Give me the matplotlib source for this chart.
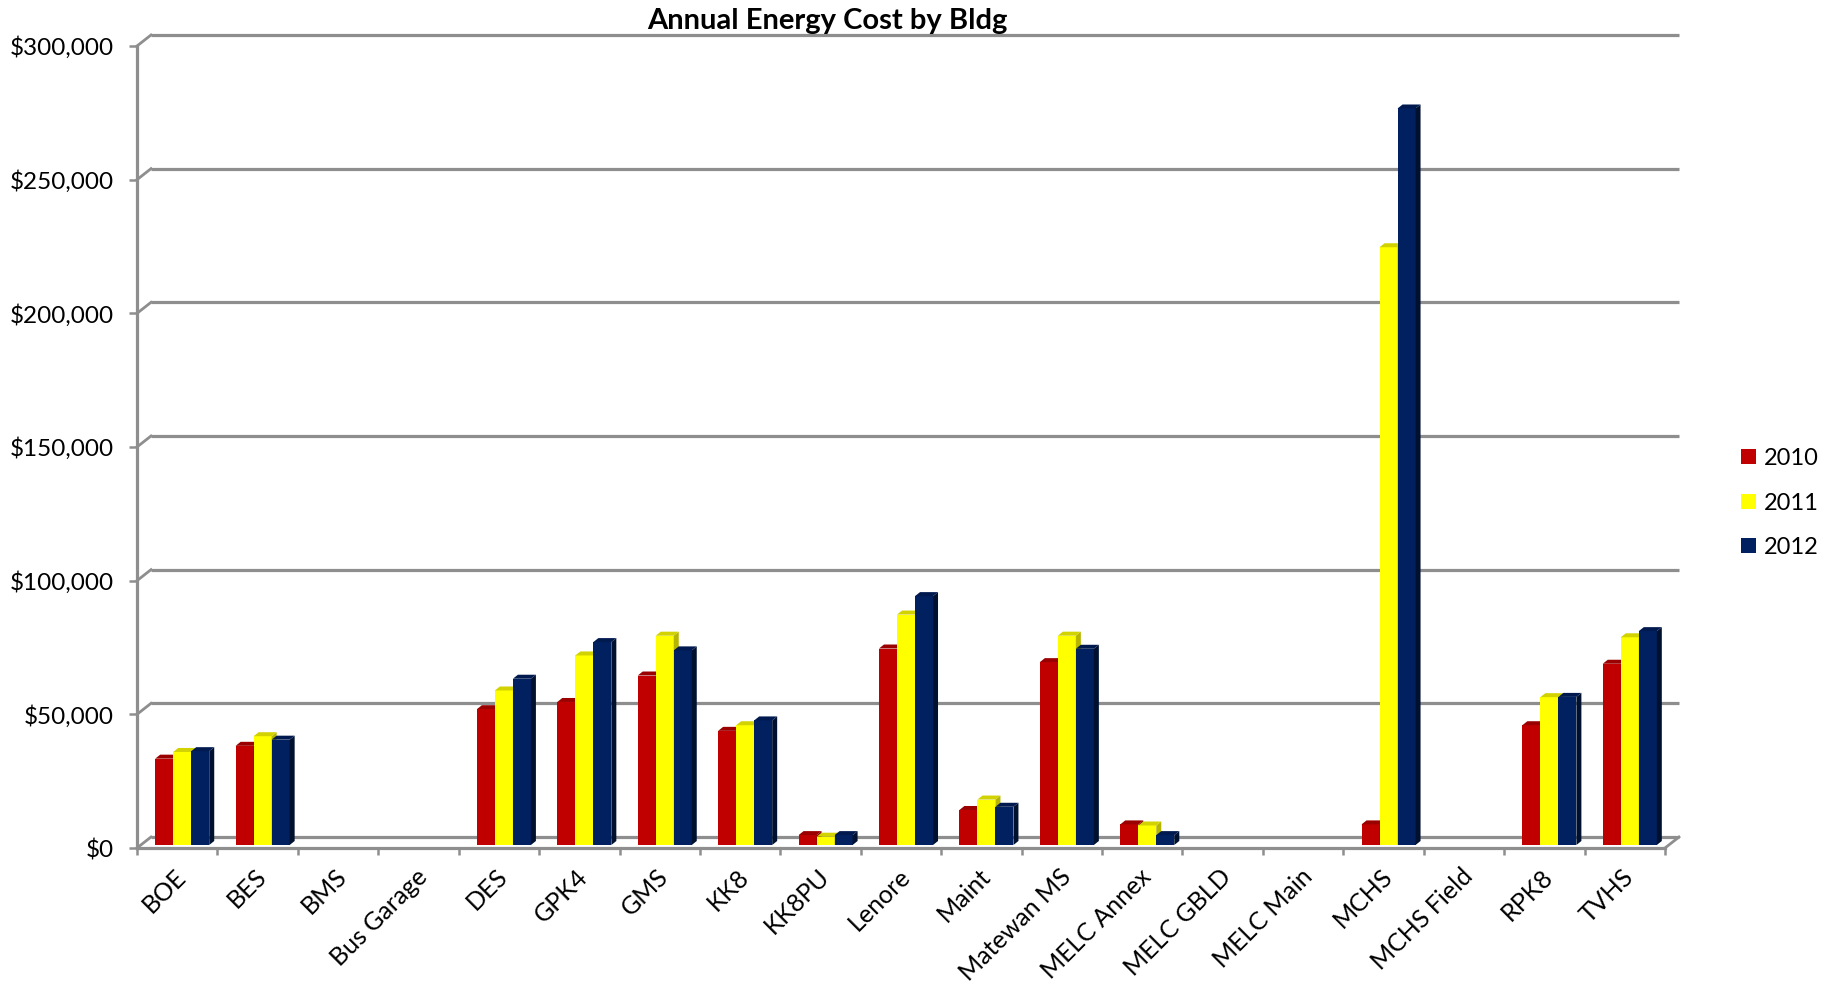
import numpy as np
import matplotlib
matplotlib.use("Agg")
import matplotlib.pyplot as plt
from matplotlib.patches import Patch, Polygon
from matplotlib.transforms import ScaledTranslation
from matplotlib.ticker import FuncFormatter, FixedLocator

plt.rcParams["font.family"] = ["Lato", "DejaVu Sans"]

# ---- data -------------------------------------------------------------
buildings = ["BOE", "BES", "BMS", "Bus Garage", "DES", "GPK4", "GMS", "KK8",
             "KK8PU", "Lenore", "Maint", "Matewan MS", "MELC Annex",
             "MELC GBLD", "MELC Main", "MCHS", "MCHS Field", "RPK8", "TVHS"]
years = ["2010", "2011", "2012"]
cost_2010 = [32300, 37100, None, None, 50800, 53500, 63400, 42700, 3700,
             73500, 13100, 68400, 7700, None, None, 7700, None, 44800, 67800]
cost_2011 = [34800, 40700, None, None, 57800, 70900, 78300, 44800, 3100,
             86200, 17000, 78300, 7300, None, None, 223600, None, 55300, 77700]
cost_2012 = [35100, 39400, None, None, 62200, 75900, 72800, 46600, 3700,
             93100, 14300, 73400, 3700, None, None, 275500, None, 55400, 80000]
y_ticks = [0, 50000, 100000, 150000, 200000, 250000, 300000]

series = [cost_2010, cost_2011, cost_2012]
front_colors = ["#C00000", "#FFFF00", "#002060"]
top_colors = ["#9A0000", "#D2D200", "#001A50"]
side_colors = ["#800000", "#B5B500", "#00112F"]
grid_color = "#8E8E8E"

# ---- figure / axes ----------------------------------------------------
W, H = 1827, 985
fig = plt.figure(figsize=(W / 100, H / 100), dpi=100)
x0_px, x1_px, ytop_px, ybot_px = 137, 1665, 46, 848
ax = fig.add_axes([x0_px / W, (H - ybot_px) / H,
                   (x1_px - x0_px) / W, (ybot_px - ytop_px) / H])
n = len(buildings)
ymax = y_ticks[-1]
ax.set_xlim(0, n)
ax.set_ylim(0, ymax)

# pixel -> data conversions for the pseudo-3D depth
ppx = (x1_px - x0_px) / n            # pixels per category
ppy = (ybot_px - ytop_px) / ymax     # pixels per dollar


def dx(px):
    return px / ppx


def dy(px):
    return px / ppy


# floor / wall depth
wall_dx, wall_dy = dx(14), dy(11)

# back-wall gridlines and the side-wall diagonals
for v in y_ticks:
    ax.plot([wall_dx, n + wall_dx], [v + wall_dy, v + wall_dy],
            color=grid_color, lw=2.3, solid_capstyle="butt",
            clip_on=False, zorder=1)
    ax.plot([0, wall_dx], [v, v + wall_dy], color=grid_color, lw=2.0,
            clip_on=False, zorder=1)
# right edge of the floor
ax.plot([n, n + wall_dx], [0, wall_dy], color=grid_color, lw=2.0,
        clip_on=False, zorder=1)

# ---- bars --------------------------------------------------------------
bar_w = 0.224
bar_shift = ScaledTranslation(5 / 100, 3 / 100, fig.dpi_scale_trans)
bar_trans = ax.transData + bar_shift
depth_x, depth_y = dx(5), dy(4)
x = np.arange(n)
group_left = x + 0.5 - 1.5 * bar_w

for i in range(n):
    for k, vals in enumerate(series):
        v = vals[i]
        if v is None:
            continue
        left = group_left[i] + k * bar_w
        right = left + bar_w
        ax.bar(left, v, width=bar_w, align="edge", color=front_colors[k],
               edgecolor="none", transform=bar_trans, zorder=3,
               clip_on=False)
        side = Polygon([(right, 0), (right + depth_x, depth_y),
                        (right + depth_x, v + depth_y), (right, v)],
                       closed=True, facecolor=side_colors[k],
                       edgecolor="none", transform=bar_trans, zorder=3,
                       clip_on=False)
        top = Polygon([(left, v), (right, v), (right + depth_x, v + depth_y),
                       (left + depth_x, v + depth_y)],
                      closed=True, facecolor=top_colors[k], edgecolor="none",
                      transform=bar_trans, zorder=3, clip_on=False)
        ax.add_patch(side)
        ax.add_patch(top)

# ---- axes styling ------------------------------------------------------
for s in ("top", "right"):
    ax.spines[s].set_visible(False)
for s in ("left", "bottom"):
    ax.spines[s].set_color(grid_color)
    ax.spines[s].set_linewidth(2.3)
    ax.spines[s].set_zorder(2)

ax.set_yticks(y_ticks)
ax.yaxis.set_major_formatter(FuncFormatter(lambda v, p: f"${v:,.0f}"))
ax.tick_params(axis="y", length=5.5, width=1.8, color=grid_color,
               pad=11, labelsize=17.5, labelcolor="black")

ax.set_xticks(x + 0.5)
ax.set_xticklabels(buildings, rotation=45, ha="right", va="top",
                   rotation_mode="anchor")
ax.xaxis.set_minor_locator(FixedLocator(np.arange(n + 1)))
ax.tick_params(axis="x", which="major", length=0, pad=12, labelsize=18)
ax.tick_params(axis="x", which="minor", length=5, width=1.8,
               color=grid_color)
label_shift = ScaledTranslation(-3 / 100, 0, fig.dpi_scale_trans)
for lab in ax.get_xticklabels():
    lab.set_transform(lab.get_transform() + label_shift)

fig.text(827 / W, 1 - 21 / H, "Annual Energy Cost by Bldg", fontsize=21,
         fontweight="bold", ha="center", va="center")

# ---- legend ------------------------------------------------------------
handles = [Patch(facecolor=c, edgecolor="none") for c in front_colors]
fig.legend(handles, years, loc="center left",
           bbox_to_anchor=(1741 / W, (H - 503) / H), frameon=False,
           fontsize=17, handlelength=0.62, handleheight=0.62,
           handletextpad=0.35, labelspacing=1.0, borderpad=0,
           borderaxespad=0)

fig.savefig("out.png", dpi=100, facecolor="white")
